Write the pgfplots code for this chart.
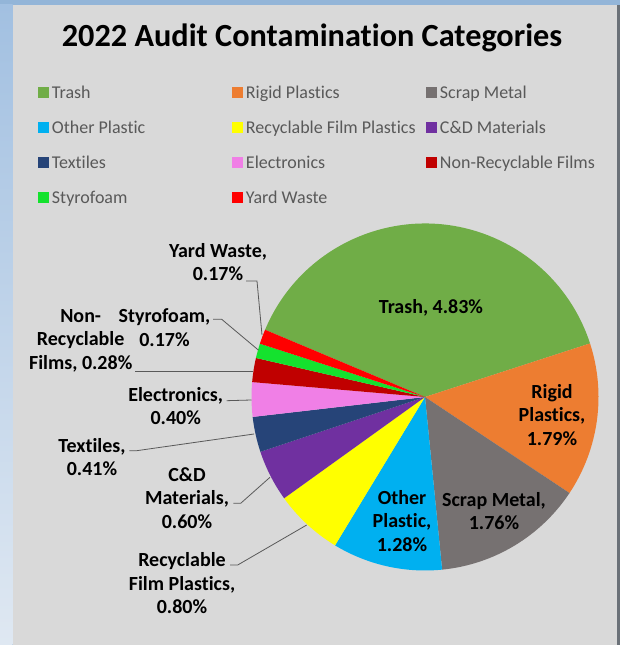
\documentclass[border=0pt]{standalone}
\usepackage{pgfplots}
\pgfplotsset{compat=1.18}
\usepackage{pgfplotstable}
\usepackage{fontspec}
\setmainfont{Carlito}[Ligatures=NoCommon]

\definecolor{cTrash}{HTML}{70AD47}
\definecolor{cRigid}{HTML}{ED7D31}
\definecolor{cScrap}{HTML}{767171}
\definecolor{cOther}{HTML}{00B0F0}
\definecolor{cFilm}{HTML}{FFFF00}
\definecolor{cCD}{HTML}{7030A0}
\definecolor{cTextiles}{HTML}{264478}
\definecolor{cElectronics}{HTML}{F07FE6}
\definecolor{cNonRec}{HTML}{C00000}
\definecolor{cStyrofoam}{HTML}{14E22E}
\definecolor{cYard}{HTML}{FF0000}
\definecolor{panel}{HTML}{D9D9D9}
\definecolor{topblue}{HTML}{93B5D8}
\definecolor{lefttop}{HTML}{A2C0E1}
\definecolor{leftbot}{HTML}{DFE8F2}
\definecolor{rightband}{HTML}{6B7178}
\definecolor{legtext}{HTML}{595959}
\definecolor{leader}{HTML}{595959}

\tikzset{lab/.style={align=center, font=\fontsize{15}{17.6}\selectfont\bfseries, inner sep=0pt}}
\pgfplotsset{legsq/.style={legend image code/.code={%
      \fill[draw=none] (0pt,-4.1pt) rectangle (8.25pt,4.1pt);
      \path[draw=none,fill=none] (0pt,0pt) rectangle (10.8pt,0.1pt);}}}

\pgfplotstableread{
label value col
Trash 4.83 cTrash
Rigid 1.79 cRigid
Scrap 1.76 cScrap
Other 1.28 cOther
Film 0.80 cFilm
CD 0.60 cCD
Textiles 0.41 cTextiles
Electronics 0.40 cElectronics
NonRec 0.28 cNonRec
Styrofoam 0.17 cStyrofoam
Yard 0.17 cYard
}\piedata

\begin{document}
\begin{tikzpicture}
\pgfplotstablegetrowsof{\piedata}
\pgfmathtruncatemacro{\nrows}{\pgfplotsretval-1}
\def\pietotal{0}
\pgfplotsforeachungrouped \i in {0,...,\nrows}{%
  \pgfplotstablegetelem{\i}{value}\of\piedata
  \pgfmathsetmacro{\pietotal}{\pietotal+\pgfplotsretval}%
}
\begin{axis}[
  x=0.75pt, y=0.75pt,
  xmin=0, xmax=620, ymin=0, ymax=645,
  hide axis, clip=false,
  legend columns=3,
  legend cell align=left,
  legend style={
    draw=none, fill=none, inner sep=0pt, inner xsep=0pt, inner ysep=0pt,
    at={(axis cs:37.3,570.25)}, anchor=north west,
    row sep=0pt, column sep=0pt,
    nodes={inner sep=0pt, text height=17.65pt, text depth=8.65pt,
           font=\fontsize{13.5}{16}\selectfont, text=legtext},
  },
]
% background
\fill[topblue] (axis cs:0,0) rectangle (axis cs:620,645);
\shade[top color=lefttop, bottom color=leftbot] (axis cs:0,0) rectangle (axis cs:12.7,640);
\fill[panel] (axis cs:12.7,0) rectangle (axis cs:616.7,640);
\fill[rightband] (axis cs:616.7,0) rectangle (axis cs:620,640);

% title
\node[anchor=base, font=\fontsize{24.2}{28}\selectfont\bfseries] at (axis cs:312,598.3)
  {2022 Audit Contamination Categories};

% pie slices from the table
\def\piecum{0}
\pgfplotsforeachungrouped \i in {0,...,\nrows}{%
  \pgfplotstablegetelem{\i}{value}\of\piedata \let\sliceval\pgfplotsretval
  \pgfplotstablegetelem{\i}{col}\of\piedata \let\slicecol\pgfplotsretval
  \pgfmathsetmacro{\aS}{157.2-360*\piecum/\pietotal}%
  \pgfmathsetmacro{\piecum}{\piecum+\sliceval}%
  \pgfmathsetmacro{\aE}{157.2-360*\piecum/\pietotal}%
  \edef\slice{\noexpand\fill[\slicecol] (axis cs:425,248) -- ++(\aS:130.125pt)
     arc[start angle=\aS, end angle=\aE, radius=130.125pt] -- cycle;}%
  \slice
}

% legend
\addlegendimage{legsq, fill=cTrash}\addlegendentry{\makebox[134.7pt][l]{Trash}}
\addlegendimage{legsq, fill=cRigid}\addlegendentry{\makebox[134.7pt][l]{Rigid Plastics}}
\addlegendimage{legsq, fill=cScrap}\addlegendentry{\makebox[134.7pt][l]{Scrap Metal}}
\addlegendimage{legsq, fill=cOther}\addlegendentry{\makebox[134.7pt][l]{Other Plastic}}
\addlegendimage{legsq, fill=cFilm}\addlegendentry{\makebox[134.7pt][l]{Recyclable Film Plastics}}
\addlegendimage{legsq, fill=cCD}\addlegendentry{\makebox[134.7pt][l]{C\&D Materials}}
\addlegendimage{legsq, fill=cTextiles}\addlegendentry{\makebox[134.7pt][l]{Textiles}}
\addlegendimage{legsq, fill=cElectronics}\addlegendentry{\makebox[134.7pt][l]{Electronics}}
\addlegendimage{legsq, fill=cNonRec}\addlegendentry{\makebox[134.7pt][l]{Non-Recyclable Films}}
\addlegendimage{legsq, fill=cStyrofoam}\addlegendentry{\makebox[134.7pt][l]{Styrofoam}}
\addlegendimage{legsq, fill=cYard}\addlegendentry{\makebox[134.7pt][l]{Yard Waste}}

% leader lines
\draw[leader, line width=0.6pt] (axis cs:246,364) -- (axis cs:257,364) -- (axis cs:262,310);
\draw[leader, line width=0.6pt] (axis cs:213,325.7) -- (axis cs:221.7,325.7) -- (axis cs:258.3,295);
\draw[leader, line width=0.6pt] (axis cs:135,273.3) -- (axis cs:253.3,273.3);
\draw[leader, line width=0.6pt] (axis cs:226.7,244.3) -- (axis cs:251.5,245);
\draw[leader, line width=0.6pt] (axis cs:129.3,194.3) -- (axis cs:136.7,194.3) -- (axis cs:254,211);
\draw[leader, line width=0.6pt] (axis cs:233.3,141.7) -- (axis cs:240.7,141.7) -- (axis cs:270,167.7);
\draw[leader, line width=0.6pt] (axis cs:230,80) -- (axis cs:237.7,80) -- (axis cs:306.7,120);

% data labels
\node[lab] at (axis cs:431,337) {Trash, 4.83\%};
\node[lab] at (axis cs:552,230) {Rigid\\Plastics,\\1.79\%};
\node[lab] at (axis cs:494,134) {Scrap Metal,\\1.76\%};
\node[lab] at (axis cs:402,124.2) {Other\\Plastic,\\1.28\%};
\node[lab] at (axis cs:218,383) {Yard Waste,\\0.17\%};
\node[lab] at (axis cs:164.5,317.5) {Styrofoam,\\0.17\%};
\node[lab] at (axis cs:80.7,304.5) {Non-\\Recyclable\\Films, 0.28\%};
\node[lab] at (axis cs:175.7,239) {Electronics,\\0.40\%};
\node[lab] at (axis cs:92,188) {Textiles,\\0.41\%};
\node[lab] at (axis cs:187,147) {C\&D\\Materials,\\0.60\%};
\node[lab] at (axis cs:182,61.7) {Recyclable\\Film Plastics,\\0.80\%};
\end{axis}
\end{tikzpicture}
\end{document}
